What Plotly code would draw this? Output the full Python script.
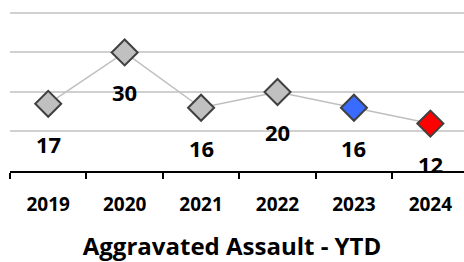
import plotly.graph_objects as go

years = ["2019", "2020", "2021", "2022", "2023", "2024"]
values = [17, 30, 16, 20, 16, 12]
marker_colors = ["#C0C0C0", "#C0C0C0", "#C0C0C0", "#C0C0C0", "#3A6BFF", "#FF0000"]
title_text = "Aggravated Assault - YTD"

FONT = "Open Sans"

fig = go.Figure()
fig.add_trace(go.Scatter(
    x=years, y=values, mode="lines+markers",
    line=dict(color="#BFBFBF", width=1.5),
    marker=dict(symbol="diamond", size=20, color=marker_colors,
                line=dict(color="#404040", width=2)),
    hoverinfo="skip", showlegend=False,
))

for i, yv in enumerate(values):
    fig.add_annotation(x=i, y=yv, xref="x", yref="y", text=str(yv), showarrow=False,
                       yshift=-40, font=dict(family=FONT, size=22, color="#000000", weight="bold"))

fig.update_layout(
    width=464, height=262,
    margin=dict(l=10, r=0, t=9, b=91, autoexpand=False),
    paper_bgcolor="white", plot_bgcolor="white",
    title=dict(text=title_text, x=0.5, xanchor="center", y=(262 - 247) / 262, yanchor="middle",
               yref="container",
               font=dict(family=FONT, size=24, color="#000000", weight="bold")),
    xaxis=dict(type="category", range=[-0.5, 5.44], tickson="boundaries",
               ticks="outside", ticklen=6, tickwidth=2, tickcolor="black",
               showline=True, linecolor="black", linewidth=2, showgrid=False,
               ticklabelstandoff=15, automargin=False,
               tickfont=dict(family=FONT, size=19, color="#000000", weight="bold")),
    yaxis=dict(range=[0, 41], tickvals=[10, 20, 30, 40], showgrid=True,
               gridcolor="#D0D0D0", gridwidth=1.5,
               showticklabels=False, zeroline=False, showline=False, ticks="", automargin=False),
)

fig.write_html("out.html", config={"displayModeBar": False},
               post_script="document.body.style.margin='0';")
